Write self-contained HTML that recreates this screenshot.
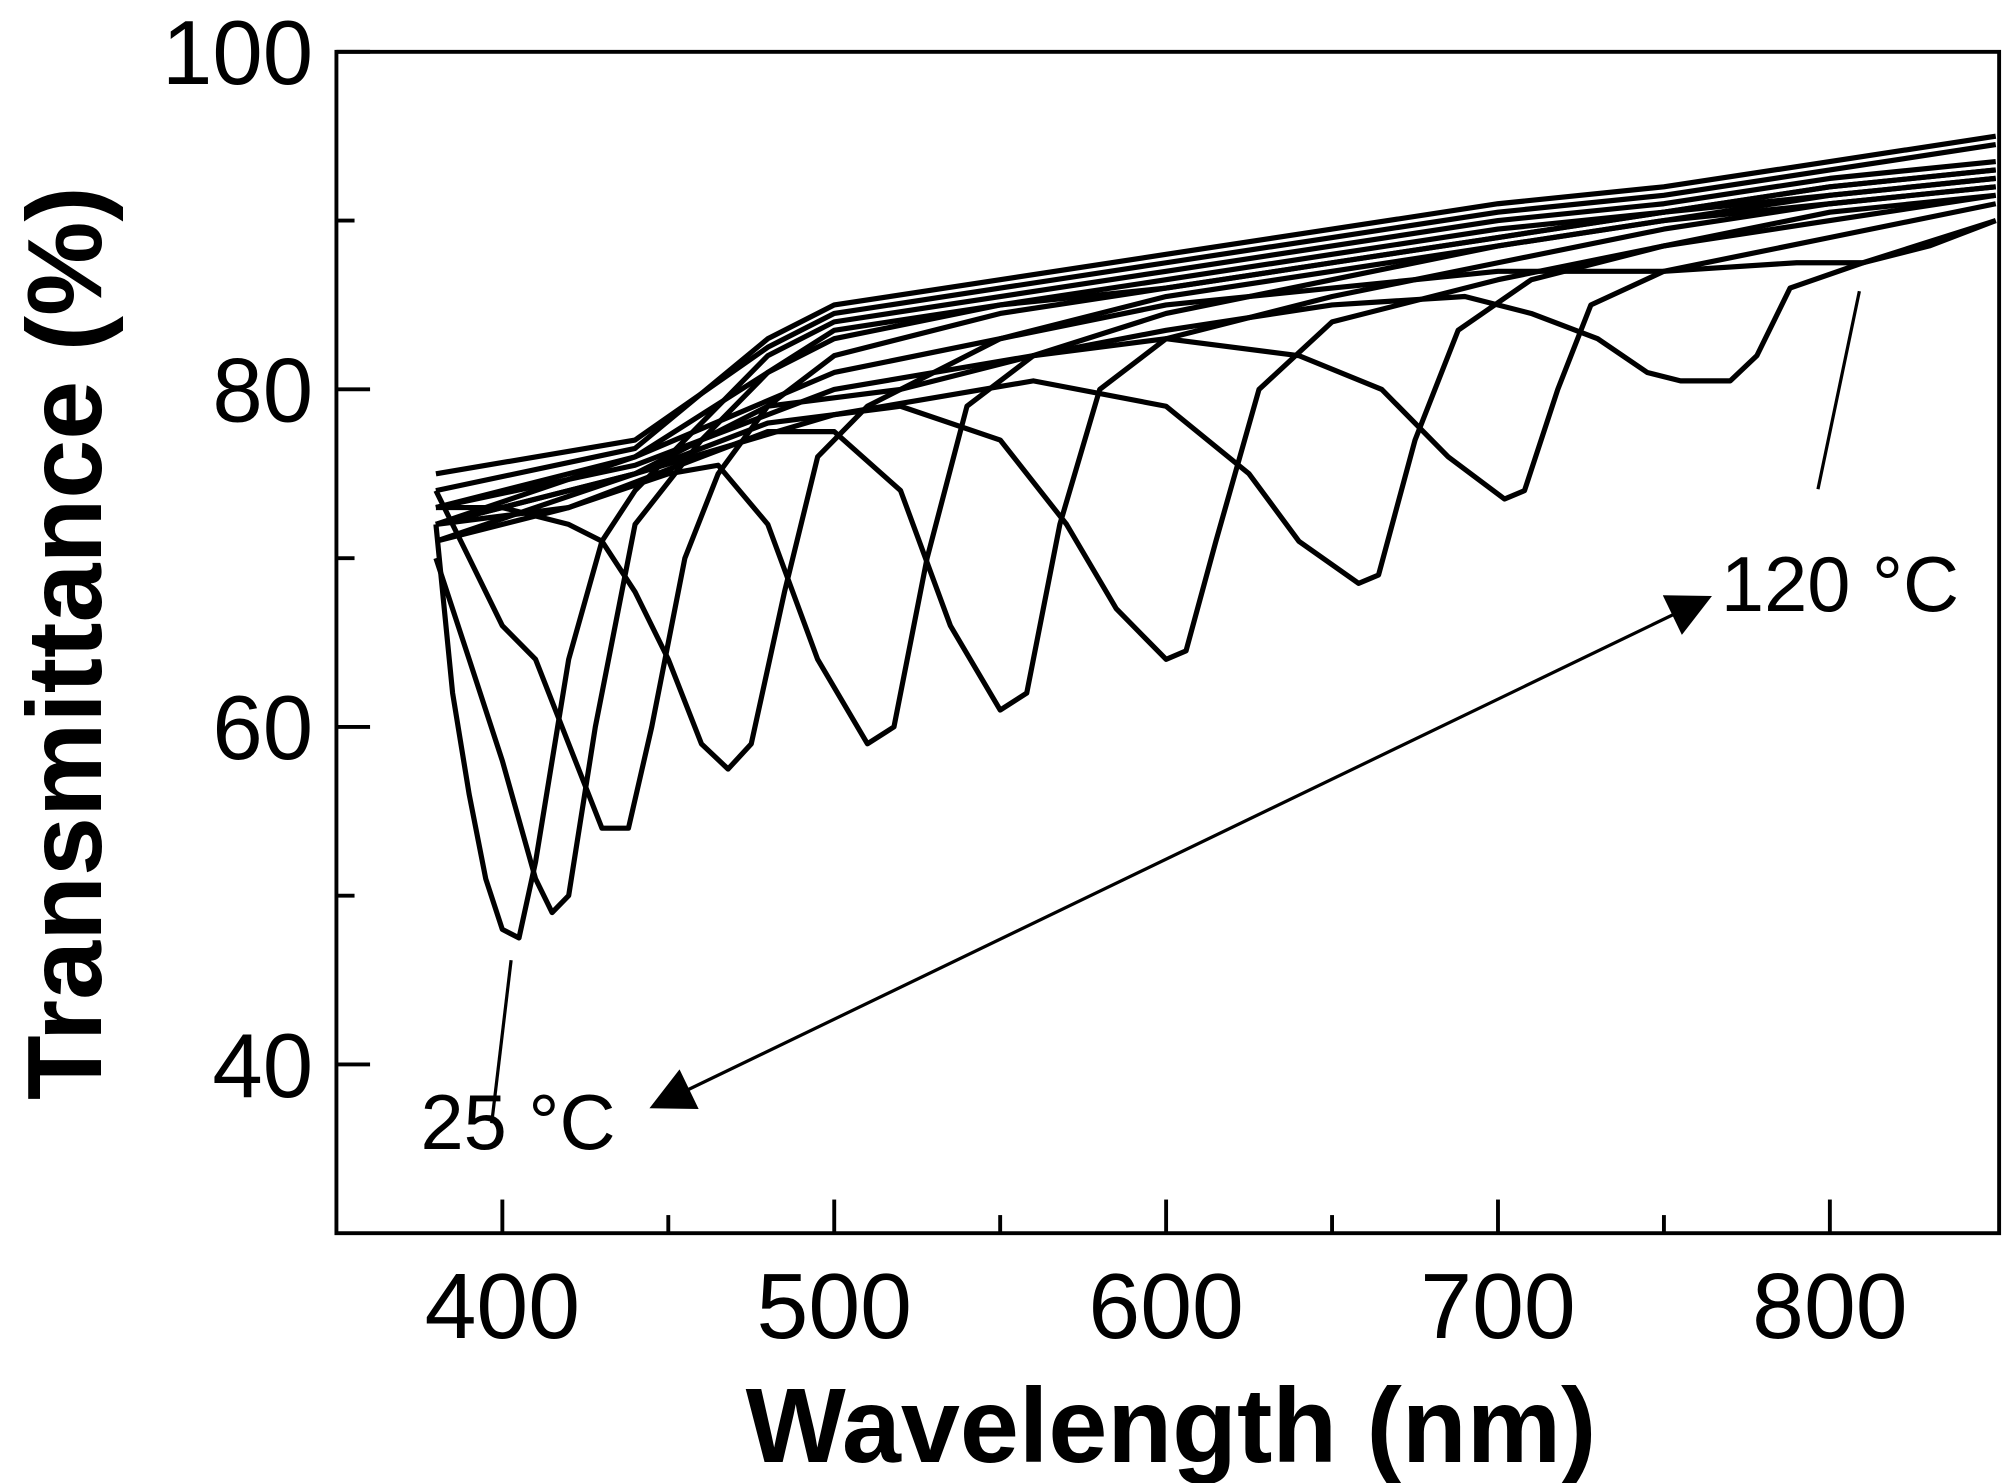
<!DOCTYPE html>
<html><head><meta charset="utf-8"><style>
html,body{margin:0;padding:0;background:#fff;}
svg{display:block;}
text{font-family:"Liberation Sans",Arial,sans-serif;fill:#000;}
</style></head><body>
<svg id="chart" width="2003" height="1483" viewBox="0 0 1548 1146" xmlns="http://www.w3.org/2000/svg">
<g id="axes"></g>
<g id="series"></g>
<g id="annot"></g>
</svg>
<script>
const xTicks = [400, 500, 600, 700, 800];
const xMinorTicks = [450, 550, 650, 750];
const yTicks = [40, 60, 80, 100];
const yMinorTicks = [50, 70, 90];
const seriesNames = ['25C','t2','t3','t4','t5','t6','t7','t8','t9','t10','120C','top1','top2','top3'];
const s0 = [[380,72],[385,62],[390,56],[395,51],[400,48],[405,47.5],[410,52],[420,64],[430,71],[440,74],[460,78],[480,82],[500,84],[550,85.5],[600,87],[650,88.5],[700,90],[750,91],[800,92.5],[850,93.5]];
const s1 = [[380,70],[390,64],[400,58],[410,51],[415,49],[420,50],[428,60],[440,72],[460,77],[480,81],[500,83.5],[550,85],[600,86.5],[650,88],[700,89.5],[750,90.5],[800,92],[850,93]];
const s2 = [[380,74],[390,70],[400,66],[410,64],[420,59],[430,54],[438,54],[445,60],[455,70],[465,75],[480,79],[500,82],[550,84.5],[600,86],[650,87.5],[700,89],[750,90.5],[800,91.5],[850,92.5]];
const s3 = [[380,73],[400,73],[420,72],[430,71],[440,68],[450,64],[460,59],[468,57.5],[475,59],[485,68],[495,76],[510,79],[550,83],[600,85.5],[650,87],[700,88.5],[750,90],[800,91.5],[850,92.5]];
const s4 = [[380,72],[420,73],[450,75],[465,75.5],[480,72],[495,64],[510,59],[518,60],[528,70],[540,79],[560,82],[600,84.5],[650,86.5],[700,88.5],[750,90],[800,91],[850,92]];
const s5 = [[380,71],[420,73],[460,76],[480,77.5],[500,77.5],[520,74],[535,66],[550,61],[558,62],[568,72],[580,80],[600,83],[650,85.5],[700,87.5],[750,89.5],[800,91],[850,92]];
const s6 = [[380,72],[440,75],[480,78],[520,79],[550,77],[570,72],[585,67],[600,64],[606,64.5],[615,71],[628,80],[650,84],[700,86.5],[750,88.5],[800,90.5],[850,91.5]];
const s7 = [[380,71],[440,75],[500,78.5],[560,80.5],[600,79],[625,75],[640,71],[658,68.5],[664,69],[675,77],[688,83.5],[710,86.5],[750,88.5],[800,90],[850,91.5]];
const s8 = [[380,72],[440,75],[480,79],[520,80],[560,82],[600,83],[640,82],[665,80],[685,76],[702,73.5],[708,74],[718,80],[728,85],[750,87],[800,89],[850,91]];
const s9 = [[380,73],[440,75.5],[500,80],[560,82],[600,83.5],[650,85],[690,85.5],[710,84.5],[730,83],[745,81],[755,80.5],[770,80.5],[778,82],[788,86],[810,87.5],[850,90]];
const s10 = [[380,72],[440,76],[500,81],[550,83],[600,85],[650,86],[700,87],[750,87],[790,87.5],[810,87.5],[830,88.5],[850,90]];
const s11 = [[380,74],[440,76.5],[480,83],[500,85],[550,86.5],[600,88],[650,89.5],[700,91],[750,92],[800,93.5],[850,95]];
const s12 = [[380,75],[440,77],[480,82.5],[500,84.5],[550,86],[600,87.5],[650,89],[700,90.5],[750,91.5],[800,93],[850,94.5]];
const s13 = [[380,73],[440,76],[480,81],[500,83],[550,85],[600,86],[650,87.5],[700,89],[750,90.5],[800,92],[850,93]];
const allSeries = [s0,s1,s2,s3,s4,s5,s6,s7,s8,s9,s10,s11,s12,s13];

const X0=260, X1=1545, Y0=40, Y1=953, XMIN=350, XMAX=851, YMIN=30, YMAX=100;
function xs(v){return X0+(v-XMIN)/(XMAX-XMIN)*(X1-X0);}
function ys(v){return Y1-(v-YMIN)/(YMAX-YMIN)*(Y1-Y0);}
const NS='http://www.w3.org/2000/svg';
function mk(tag,attrs,parent){const e=document.createElementNS(NS,tag);for(const k in attrs)e.setAttribute(k,attrs[k]);parent.appendChild(e);return e;}
const axes=document.getElementById('axes');
const frame=mk('rect',{x:X0,y:Y0,width:X1-X0,height:Y1-Y0,fill:'none',stroke:'#000','stroke-width':3},axes);


xTicks.forEach(v=>{
  const t=mk('line',{x1:xs(v),x2:xs(v),y1:Y1,y2:Y1-26,stroke:'#000','stroke-width':3},axes);
  
  
  const l=mk('text',{x:xs(v),y:1034,'font-size':72,'text-anchor':'middle'},axes);
  l.textContent=v;
  
  
});
xMinorTicks.forEach(v=>{
  const t=mk('line',{x1:xs(v),x2:xs(v),y1:Y1,y2:Y1-14,stroke:'#000','stroke-width':3},axes);
  
  
});
yTicks.forEach(v=>{
  const t=mk('line',{x1:X0,x2:X0+26,y1:ys(v),y2:ys(v),stroke:'#000','stroke-width':3},axes);
  
  
  const l=mk('text',{x:242,y:ys(v)+25,'font-size':70,'text-anchor':'end'},axes);
  l.textContent=v;
  
  
});
yMinorTicks.forEach(v=>{
  const t=mk('line',{x1:X0,x2:X0+14,y1:ys(v),y2:ys(v),stroke:'#000','stroke-width':3},axes);
  
  
});
const xt=mk('text',{x:905,y:1130,'font-size':82,'font-weight':'bold','text-anchor':'middle'},axes);
xt.textContent='Wavelength (nm)';


const yt=mk('text',{x:0,y:0,'font-size':82,'font-weight':'bold','text-anchor':'middle',transform:'translate(78,497) rotate(-90)'},axes);
yt.textContent='Transmittance (%)';



const sg=document.getElementById('series');
allSeries.forEach((s,i)=>{
  const d=s.map((p,j)=>(j?'L':'M')+xs(p[0]).toFixed(1)+','+ys(p[1]).toFixed(1)).join(' ');
  const p=mk('path',{d:d,fill:'none',stroke:'#000','stroke-width':4,'stroke-linejoin':'round'},sg);
  
  
});

const an=document.getElementById('annot');
const defs=mk('defs',{},document.getElementById('chart'));
const mkr=mk('marker',{id:'ah',viewBox:'0 0 10 10',refX:9,refY:5,markerWidth:44,markerHeight:34,orient:'auto-start-reverse',markerUnits:'userSpaceOnUse'},defs);
mk('path',{d:'M0,0 L10,5 L0,10 z',fill:'#000'},mkr);
const arr=mk('line',{x1:505,y1:855,x2:1320,y2:462,stroke:'#000','stroke-width':2.5,'marker-start':'url(#ah)','marker-end':'url(#ah)'},an);


const p1=mk('line',{x1:1405,y1:378,x2:1437,y2:225,stroke:'#000','stroke-width':2.5},an);


const p2=mk('line',{x1:380,y1:868,x2:395,y2:742,stroke:'#000','stroke-width':2.5},an);


const l1=mk('text',{x:1330,y:472,'font-size':60},an);
l1.textContent='120 °C';


const l2=mk('text',{x:325,y:888,'font-size':60},an);
l2.textContent='25 °C';


</script>
</body></html>
